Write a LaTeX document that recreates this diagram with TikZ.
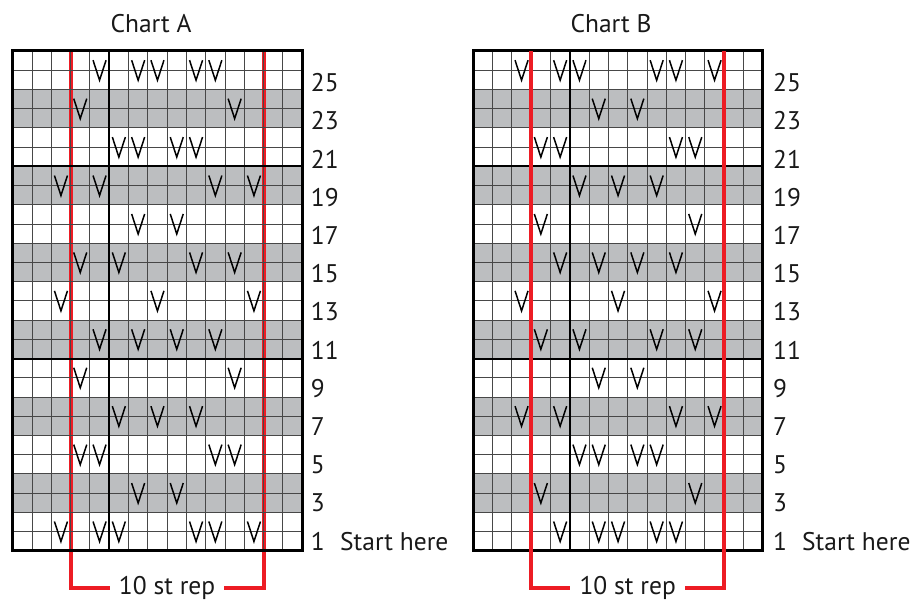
\documentclass[tikz,border=0pt]{standalone}
\usepackage{fontspec}
\setmainfont{PT Sans}
\definecolor{chartgray}{RGB}{188,190,192}
\definecolor{repred}{RGB}{237,28,36}
\tikzset{
  gridthin/.style={draw=black!72, line width=0.9pt},
  gridthick/.style={draw=black, line width=2pt},
  gridborder/.style={draw=black, line width=3pt},
  repline/.style={draw=repred, line width=4pt, line join=miter},
  slipv/.style={draw=black, line width=1.5pt, line join=miter},
  lbl/.style={font=\fontsize{25.5}{26}\selectfont, inner sep=0pt, text=black!90},
  replbl/.style={font=\fontsize{25.5}{26}\selectfont, inner xsep=9pt, inner ysep=0pt, text=black!90},
}
\def\cw{19.3}
\def\ch{19.22}
\def\ytop{51}
\newcommand\kfill[1]{%
  \foreach \k in {2,4,...,12} {
    \fill[chartgray] (#1,{\ytop+(26-2*\k)*\ch}) rectangle ++({15*\cw},{2*\ch});
  }}
\newcommand\klines[1]{%
  \foreach \i in {1,...,14} {\draw[gridthin] ({#1+\i*\cw},\ytop) -- ++(0,{26*\ch});}
  \foreach \j in {1,...,25} {\draw[gridthin] (#1,{\ytop+\j*\ch}) -- ++({15*\cw},0);}
  \draw[gridthick] ({#1+5*\cw},\ytop) -- ++(0,{26*\ch});
  \draw[gridthick] (#1,{\ytop+6*\ch}) -- ++({15*\cw},0);
  \draw[gridthick] (#1,{\ytop+16*\ch}) -- ++({15*\cw},0);
  \draw[gridborder] (#1,\ytop) rectangle ++({15*\cw},{26*\ch});}
\newcommand\kvees[2]{%
  \foreach \k/\cols in {#2} {
    \foreach \c in \cols {
      \draw[slipv] ({#1+(\c+0.5)*\cw-6.5},{\ytop+(27-2*\k)*\ch-10}) -- ++(6.5,20) -- ++(6.5,-20);
    }
  }}
\begin{document}
\begin{tikzpicture}[x=1pt,y=-1pt]
\useasboundingbox (0,0) rectangle (913,601);
% ---------- Chart A ----------
\def\xa{12.7}
\node[lbl, anchor=base] (titleA) at (151,33) {Chart A};
\kfill{\xa}
\coordinate (aTL) at ({\xa+3*\cw},\ytop);
\coordinate (aTR) at ({\xa+13*\cw},\ytop);
\node[replbl, anchor=base] (arep) at ({\xa+8*\cw},594.5) {10 st rep};
\draw[repline] (aTL) |- (arep.west);
\draw[repline] (aTR) |- (arep.east);
\klines{\xa}
\kvees{\xa}{13/{4,6,7,9,10},12/{3,11},11/{5,6,8,9},10/{2,4,10,12},9/{6,8},8/{3,5,9,11},7/{2,7,12},6/{4,6,8,10},5/{3,11},4/{5,7,9},3/{3,4,10,11},2/{6,8},1/{2,4,5,9,10,12}}
\foreach \r in {3,5,...,25} {
  \node[lbl, anchor=base west] (A\r) at (310.7,{550-(\r-1)/2*38.19}) {\r};
}
\node[lbl, anchor=base west] (A1) at (310.7,550) {1};
\node[lbl, anchor=base west] (Astart) at (340,550) {Start here};
% ---------- Chart B ----------
\def\xb{473.3}
\node[lbl, anchor=base] (titleB) at (611,33) {Chart B};
\kfill{\xb}
\klines{\xb}
\coordinate (bTL) at ({\xb+3*\cw},\ytop);
\coordinate (bTR) at ({\xb+13*\cw},\ytop);
\node[replbl, anchor=base] (brep) at ({\xb+8*\cw},594.5) {10 st rep};
\draw[repline] (bTL) |- (brep.west);
\draw[repline] (bTR) |- (brep.east);
\kvees{\xb}{13/{2,4,5,9,10,12},12/{6,8},11/{3,4,10,11},10/{5,7,9},9/{3,11},8/{4,6,8,10},7/{2,7,12},6/{3,5,9,11},5/{6,8},4/{2,4,10,12},3/{5,6,8,9},2/{3,11},1/{4,6,7,9,10}}
\foreach \r in {3,5,...,25} {
  \node[lbl, anchor=base west] (B\r) at (773,{550-(\r-1)/2*38.19}) {\r};
}
\node[lbl, anchor=base west] (B1) at (773,550) {1};
\node[lbl, anchor=base west] (Bstart) at (802,550) {Start here};
\end{tikzpicture}
\end{document}
